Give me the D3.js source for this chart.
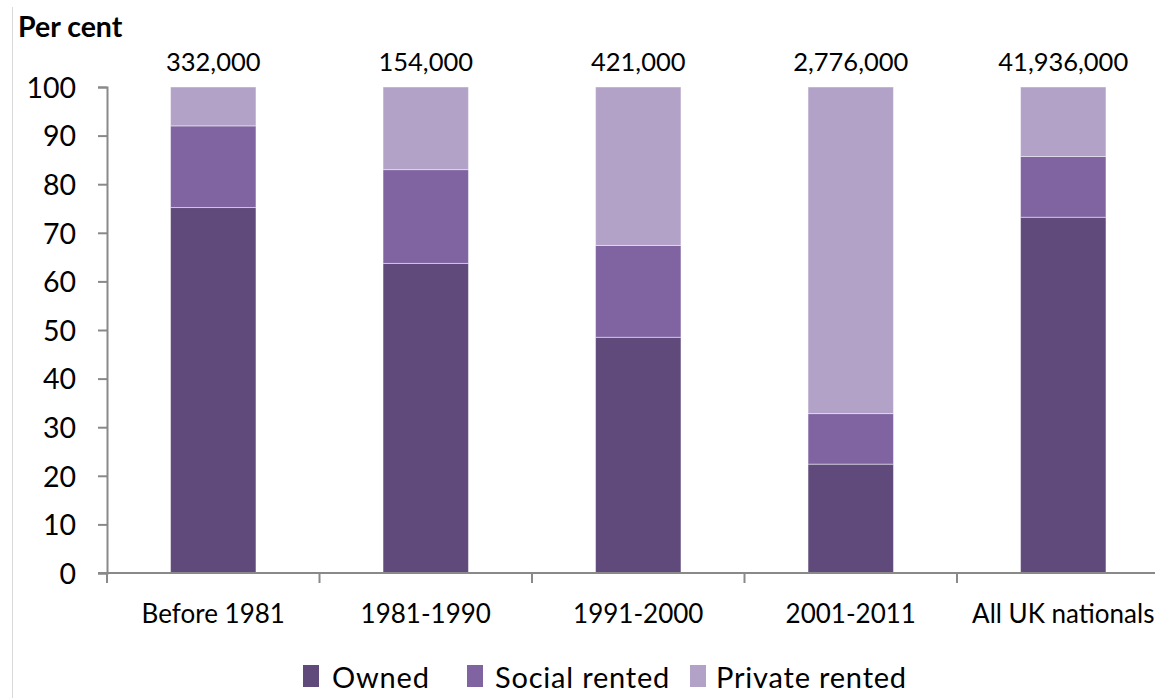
<!DOCTYPE html>
<html>
<head>
<meta charset="utf-8">
<script src="https://cdn.jsdelivr.net/npm/d3@7"></script>
<style>
  html, body { margin: 0; padding: 0; background: #fff; }
  svg { display: block; }
  text { font-family: Lato, "Open Sans", sans-serif; fill: #000; }
</style>
</head>
<body>
<svg id="chart" width="1155" height="698"></svg>
<script>
// Tenure by year of arrival (per cent)
const categories = ["Before 1981", "1981-1990", "1991-2000", "2001-2011", "All UK nationals"];
const owned   = [75.2, 63.7, 48.5, 22.4, 73.2];
const social  = [16.8, 19.3, 18.9, 10.4, 12.5];
const privateRented = [8.0, 17.0, 32.6, 67.2, 14.3];
const totals  = ["332,000", "154,000", "421,000", "2,776,000", "41,936,000"];
const seriesNames = ["Owned", "Social rented", "Private rented"];
const seriesColors = ["#604a7b", "#8064a2", "#b3a2c7"];
const yTicks = [0, 10, 20, 30, 40, 50, 60, 70, 80, 90, 100];

const svg = d3.select("#chart");

// thin frame line on the left edge
svg.append("line")
  .attr("x1", 12.5).attr("x2", 12.5).attr("y1", 7).attr("y2", 698)
  .attr("stroke", "#d9d9d9").attr("stroke-width", 1);

const x0 = 107, step = 212.5;
const x = d3.scaleBand()
  .domain(categories)
  .range([x0, x0 + step * categories.length])
  .paddingInner(0.598).paddingOuter(0.299);

const y = d3.scaleLinear().domain([0, 100]).range([573, 87]);

const rows = categories.map((c, i) => ({
  cat: c, Owned: owned[i], "Social rented": social[i], "Private rented": privateRented[i]
}));
const stacked = d3.stack().keys(seriesNames)(rows);

// bars
svg.append("g").selectAll("g")
  .data(stacked).join("g")
  .attr("fill", (d, i) => seriesColors[i])
  .selectAll("rect")
  .data(d => d).join("rect")
  .attr("x", d => x(d.data.cat))
  .attr("width", x.bandwidth())
  .attr("y", d => y(d[1]))
  .attr("height", d => y(d[0]) - y(d[1]))
  .attr("stroke", "rgba(255,255,255,0.45)")
  .attr("stroke-width", 1);

// y axis
const yAxis = svg.append("g")
  .attr("transform", `translate(${x0},0)`)
  .call(d3.axisLeft(y).tickValues(yTicks).tickSize(9).tickPadding(22));
yAxis.select(".domain").attr("stroke", "#898989").attr("stroke-width", 2);
yAxis.selectAll(".tick line").attr("stroke", "#898989").attr("stroke-width", 2);
yAxis.selectAll(".tick text")
  .attr("font-size", "28.5px").attr("font-family", "Lato, sans-serif").attr("fill", "#000")
  .attr("dy", "0.36em");

// x axis with category-boundary ticks
const xAxisG = svg.append("g").attr("transform", `translate(0,${y(0)})`);
xAxisG.append("line")
  .attr("x1", x0 - 9).attr("x2", 1155).attr("y1", 0).attr("y2", 0)
  .attr("stroke", "#898989").attr("stroke-width", 2);
const boundaries = d3.range(categories.length).map(i => x0 + step * i);
xAxisG.selectAll("line.tk")
  .data(boundaries).join("line").attr("class", "tk")
  .attr("x1", d => d).attr("x2", d => d).attr("y1", 0).attr("y2", 10)
  .attr("stroke", "#898989").attr("stroke-width", 2);
xAxisG.selectAll("text.cat")
  .data(categories).join("text").attr("class", "cat")
  .attr("x", d => x(d) + x.bandwidth() / 2)
  .attr("y", 50)
  .attr("text-anchor", "middle")
  .attr("font-size", "26px")
  .text(d => d);

// totals above each bar
svg.selectAll("text.total")
  .data(categories).join("text").attr("class", "total")
  .attr("x", d => x(d) + x.bandwidth() / 2)
  .attr("y", 71)
  .attr("text-anchor", "middle")
  .attr("font-size", "25.5px")
  .text((d, i) => totals[i]);

// axis title
svg.append("text")
  .attr("x", 18).attr("y", 37)
  .attr("font-size", "28.5px").attr("font-weight", "bold")
  .text("Per cent");

// legend
const legendSwatchX = [303, 467, 690];
const legendTextX = [332, 495, 716];
const lg = svg.append("g").selectAll("g")
  .data(seriesNames).join("g");
lg.append("rect")
  .attr("x", (d, i) => legendSwatchX[i]).attr("y", 665)
  .attr("width", 16).attr("height", 22)
  .attr("fill", (d, i) => seriesColors[i]);
lg.append("text")
  .attr("x", (d, i) => legendTextX[i]).attr("y", 688)
  .attr("font-size", "29px")
  .attr("letter-spacing", "0.8px")
  .text(d => d);
</script>
</body>
</html>
